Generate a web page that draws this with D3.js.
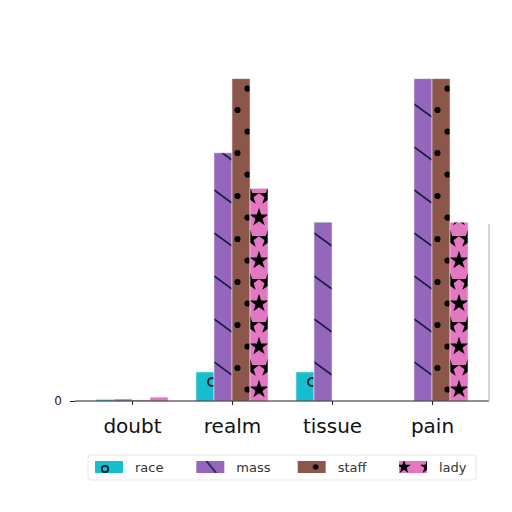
<!DOCTYPE html>
<html>
<head>
<meta charset="utf-8">
<script src="https://cdn.jsdelivr.net/npm/d3@7"></script>
<style>
  body { margin: 0; background: #fff; }
  text { font-family: "DejaVu Sans", sans-serif; }
</style>
</head>
<body>
<div id="chart"></div>
<script>
// chart data
const categories = ["doubt", "realm", "tissue", "pain"];
const seriesNames = ["race", "mass", "staff", "lady"];
const race  = [0.5, 9, 9, 0];
const mass  = [0.6, 77, 55.5, 100];
const staff = [0.3, 100, 0, 100];
const lady  = [1.2, 66, 0, 55.5];
const yTicks = [0];

const colors = {race: "#17becf", mass: "#9467bd", staff: "#8c564b", lady: "#e377c2"};
const seriesValues = {race, mass, staff, lady};

const W = 512, H = 512;
const svg = d3.select("#chart").append("svg")
    .attr("width", W)
    .attr("height", H);
const defs = svg.append("defs");

const margin = {top: 62, right: 23, bottom: 111, left: 75};
const width = W - margin.left - margin.right;
const height = H - margin.top - margin.bottom;

const g = svg.append("g")
    .attr("transform", `translate(${margin.left},${margin.top})`);

const x0 = d3.scalePoint()
    .domain(categories)
    .range([57, width - 57]);
const x1 = d3.scaleBand()
    .domain(seriesNames)
    .range([-36, 36]);
const y = d3.scaleLinear()
    .domain([0, 105.2])
    .range([height, 0]);

// one pattern per bar, anchored at the bar's left/bottom edge (local coords of g)
function makePattern(id, name, bx, by) {
  const bw = x1.bandwidth();
  const p = defs.append("pattern")
      .attr("id", id)
      .attr("patternUnits", "userSpaceOnUse")
      .attr("x", bx).attr("y", by)
      .attr("width", bw).attr("height", 43);
  p.append("rect").attr("width", bw).attr("height", 43).attr("fill", colors[name]);
  if (name === "race") {
    p.append("circle").attr("cx", bw - 2).attr("cy", 24).attr("r", 4)
      .attr("fill", "none").attr("stroke", "#123").attr("stroke-width", 2);
  } else if (name === "mass") {
    p.append("line").attr("x1", 0).attr("y1", 4).attr("x2", bw).attr("y2", 17)
      .attr("stroke", "#1a1a40").attr("stroke-width", 1.8);
  } else if (name === "staff") {
    p.append("circle").attr("cx", 5.5).attr("cy", 10).attr("r", 3.1).attr("fill", "#000");
    p.append("circle").attr("cx", 15.5).attr("cy", 31.5).attr("r", 3.1).attr("fill", "#000");
  } else {
    const star = d3.symbol().type(d3.symbolStar).size(105);
    [[bw / 2, 31.5], [0, 10], [bw, 10]].forEach(([cx, cy]) => {
      p.append("path").attr("d", star()).attr("fill", "#000")
        .attr("transform", `translate(${cx},${cy})`);
    });
  }
}

const bars = [];
categories.forEach((c, i) => {
  seriesNames.forEach(s => {
    bars.push({cat: c, series: s, value: seriesValues[s][i]});
  });
});

bars.forEach((d, i) => {
  makePattern("pat" + i, d.series, x0(d.cat) + x1(d.series), y(0));
});

g.selectAll("rect.bar")
  .data(bars)
  .join("rect")
    .attr("class", "bar")
    .attr("x", d => x0(d.cat) + x1(d.series))
    .attr("y", d => y(d.value))
    .attr("width", x1.bandwidth())
    .attr("height", d => y(0) - y(d.value))
    .attr("fill", (d, i) => `url(#pat${i})`)
    .attr("stroke", "#e8e8e8")
    .attr("stroke-width", 0.6);

// x axis
const xAxis = g.append("g")
    .attr("transform", `translate(0,${height})`)
    .call(d3.axisBottom(x0).tickSize(4).tickPadding(14));
xAxis.select(".domain").attr("stroke", "#222").attr("d", `M0,0H${width}`);
xAxis.selectAll("text").attr("font-size", 20).attr("fill", "#111");
xAxis.selectAll(".tick line").attr("stroke", "#222");

// y axis (only the zero tick shows)
const yAxis = g.append("g")
    .call(d3.axisLeft(y).tickValues(yTicks).tickSize(5).tickPadding(8));
yAxis.select(".domain").remove();
yAxis.selectAll("text").attr("font-size", 12).attr("fill", "#222");
yAxis.selectAll(".tick line").attr("stroke", "#222");

// faint right edge
g.append("line")
    .attr("x1", width).attr("x2", width)
    .attr("y1", y(55)).attr("y2", height)
    .attr("stroke", "#bbb").attr("stroke-width", 1.2);

// legend
const legend = svg.append("g")
    .attr("transform", "translate(88,455)");
legend.append("rect")
    .attr("width", 388).attr("height", 25)
    .attr("rx", 3)
    .attr("fill", "#fff").attr("stroke", "#e6e6e6");

const legX = d3.scalePoint().domain(seriesNames).range([7, 311]);
seriesNames.forEach((s, i) => {
  const lp = defs.append("pattern")
      .attr("id", "leg" + i)
      .attr("patternUnits", "userSpaceOnUse")
      .attr("x", 0).attr("y", 0).attr("width", 28).attr("height", 12);
  lp.append("rect").attr("width", 28).attr("height", 12).attr("fill", colors[s]);
  if (s === "race") {
    lp.append("circle").attr("cx", 10).attr("cy", 8).attr("r", 3.2)
      .attr("fill", "none").attr("stroke", "#123").attr("stroke-width", 1.8);
  } else if (s === "mass") {
    lp.append("line").attr("x1", 10).attr("y1", 0).attr("x2", 20).attr("y2", 12)
      .attr("stroke", "#1a1a40").attr("stroke-width", 1.6);
  } else if (s === "staff") {
    lp.append("circle").attr("cx", 18).attr("cy", 6).attr("r", 2.7).attr("fill", "#000");
  } else {
    const star = d3.symbol().type(d3.symbolStar).size(60);
    [[5, 6], [28, 6]].forEach(([cx, cy]) => {
      lp.append("path").attr("d", star()).attr("fill", "#000")
        .attr("transform", `translate(${cx},${cy})`);
    });
  }
  const item = legend.append("g").attr("transform", `translate(${legX(s)},6)`);
  item.append("rect")
      .attr("width", 28).attr("height", 12)
      .attr("fill", `url(#leg${i})`);
  item.append("text")
      .attr("x", 40).attr("y", 11)
      .attr("font-size", 13)
      .attr("fill", "#333")
      .text(s);
});
</script>
</body>
</html>
